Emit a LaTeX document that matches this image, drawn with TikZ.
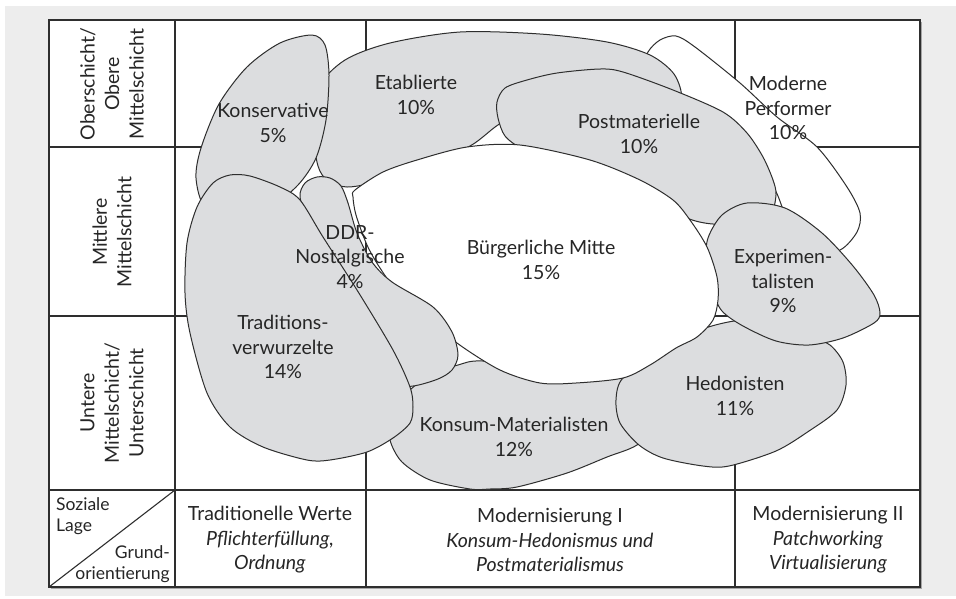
\documentclass[tikz,border=0pt]{standalone}
\usepackage{fontspec}
\setmainfont{Lato}
\usetikzlibrary{positioning}

\definecolor{bgc}{HTML}{EDEDED}
\definecolor{blobc}{HTML}{DCDDDF}
\definecolor{linec}{HTML}{2E2E2E}
\definecolor{textc}{HTML}{262626}

\begin{document}
\begin{tikzpicture}[
  x=1pt, y=-1pt,
  every node/.style={font=\fontsize{19.5}{24.5}\selectfont, align=center, text=textc, inner sep=0pt},
  grid/.style={draw=linec, line width=1.1pt},
  blob/.style={draw=linec, fill=blobc, line width=1pt},
  wblob/.style={blob, fill=white},
  rowlbl/.style={rotate=90},
  small/.style={font=\fontsize{17.5}{21.5}\selectfont},
  milieu/.style={}
]

\useasboundingbox (0,0) rectangle (956,598);
\fill[bgc] (5,6) rectangle (956,596);

% table
\fill[black!35] (51,22) rectangle (922,589);
\fill[white] (49,20) rectangle (920,587);
\draw[grid] (49,20) rectangle (920,587);
\draw[grid] (175,20) -- (175,587);
\draw[grid] (366,20) -- (366,587);
\draw[grid] (735,20) -- (735,587);
\draw[grid] (49,147) -- (920,147);
\draw[grid] (49,316) -- (920,316);
\draw[grid] (49,490) -- (920,490);
\draw[grid] (49,587) -- (175,490);

% row labels
\node[rowlbl] (oben) at (112,84) {Oberschicht/\\Obere\\Mittelschicht};
\node[rowlbl] (mitte) at (112,232) {Mittlere\\Mittelschicht};
\node[rowlbl] (unten) at (112,403) {Untere\\Mittelschicht/\\Unterschicht};

% corner cell
\node[small, anchor=north west, align=left] (lage) at (56,497) {Soziale\\Lage};
\node[small, anchor=south east, align=right] (grund) at (170,583) {Grund-\\orientierung};

% column labels
\node (trad) at (270,540) {Traditionelle Werte\\\textit{Pflichterfüllung,}\\\textit{Ordnung}};
\node (mod1) at (550,540) {Modernisierung I\\\textit{Konsum-Hedonismus und}\\\textit{Postmaterialismus}};
\node (mod2) at (828,540) {Modernisierung II\\\textit{Patchworking}\\\textit{Virtualisierung}};

% milieus
\draw[wblob] plot[smooth cycle] coordinates {(648,52) (660,40) (676,36) (695,47) (740,83) (777,117) (817,147) (847,187) (860,213) (857,232) (840,250) (812,252) (787,218) (774,188) (745,150) (700,112) (660,88) (642,72)};
\draw[blob] plot[smooth cycle] coordinates {(345,60) (390,43) (460,32) (540,34) (607,42) (650,55) (674,74) (681,98) (660,108) (600,108) (540,114) (503,122) (470,146) (420,166) (375,182) (347,187) (328,181) (318,166) (313,130) (318,88)};
\draw[blob] plot[smooth cycle] coordinates {(312,35) (325,45) (329,75) (326,120) (316,158) (298,185) (270,207) (235,215) (205,207) (196,178) (201,148) (219,104) (247,67) (280,43)};
\draw[blob] plot[smooth cycle] coordinates {(497,102) (505,88) (527,80) (557,73) (600,69) (623,72) (673,90) (723,112) (747,133) (763,157) (773,180) (776,195) (770,215) (745,222) (713,224) (687,218) (660,200) (615,176) (560,158) (522,148) (505,136) (498,118)};
\draw[blob] plot[smooth cycle] coordinates {(458,365) (483,361) (560,370) (640,375) (670,390) (665,420) (637,445) (607,457) (567,473) (517,487) (490,489) (470,489) (430,480) (402,462) (390,440) (392,420) (405,395) (430,375)};
\draw[blob] plot[smooth cycle] coordinates {(623,378) (660,355) (700,330) (745,320) (780,330) (812,338) (830,345) (843,362) (846,385) (837,410) (809,431) (776,451) (729,466) (703,466) (663,458) (639,445) (620,423) (616,400)};
\draw[blob] plot[smooth cycle] coordinates {(747,203) (785,208) (822,233) (853,266) (874,295) (880,313) (874,323) (843,338) (809,345) (776,341) (743,326) (722,311) (712,290) (706,262) (708,238) (722,215)};
\draw[wblob] plot[smooth cycle] coordinates {(355,190) (383,172) (417,160) (467,147) (520,145) (590,160) (640,180) (673,200) (690,220) (707,247) (717,277) (718,300) (713,320) (697,337) (676,348) (650,365) (623,378) (576,383) (540,383) (500,370) (457,343) (430,318) (400,295) (380,268) (367,245) (356,215) (353,197)};
\draw[blob] plot[smooth cycle] coordinates {(317,177) (330,178) (341,186) (348,203) (357,233) (372,262) (392,282) (433,307) (452,332) (458,355) (452,370) (438,379) (413,386) (395,383) (370,340) (340,285) (310,225) (300,197) (305,183)};
\draw[blob] plot[smooth cycle] coordinates {(230,175) (250,176) (280,187) (300,200) (323,237) (357,290) (393,350) (410,387) (413,407) (410,423) (393,438) (367,452) (330,460) (307,460) (263,447) (230,427) (207,393) (190,333) (185,293) (187,243) (197,207) (213,183)};

% milieu labels
\node[milieu] (kons) at (273,123) {Konservative\\5\%};
\node[milieu] (etab) at (416,95) {Etablierte\\10\%};
\node[milieu] (post) at (639,134) {Postmaterielle\\10\%};
\node[milieu] (perf) at (788,108) {Moderne\\Performer\\10\%};
\node[milieu] (ddr) at (350,257) {DDR-\\Nostalgische\\4\%};
\node[milieu] (buerg) at (541,260) {Bürgerliche Mitte\\15\%};
\node[milieu] (expe) at (783,281) {Experimen-\\talisten\\9\%};
\node[milieu] (tradv) at (283,347) {Traditions-\\verwurzelte\\14\%};
\node[milieu] (konsum) at (514,437) {Konsum-Materialisten\\12\%};
\node[milieu] (hedo) at (735,396) {Hedonisten\\11\%};

\end{tikzpicture}
\end{document}
